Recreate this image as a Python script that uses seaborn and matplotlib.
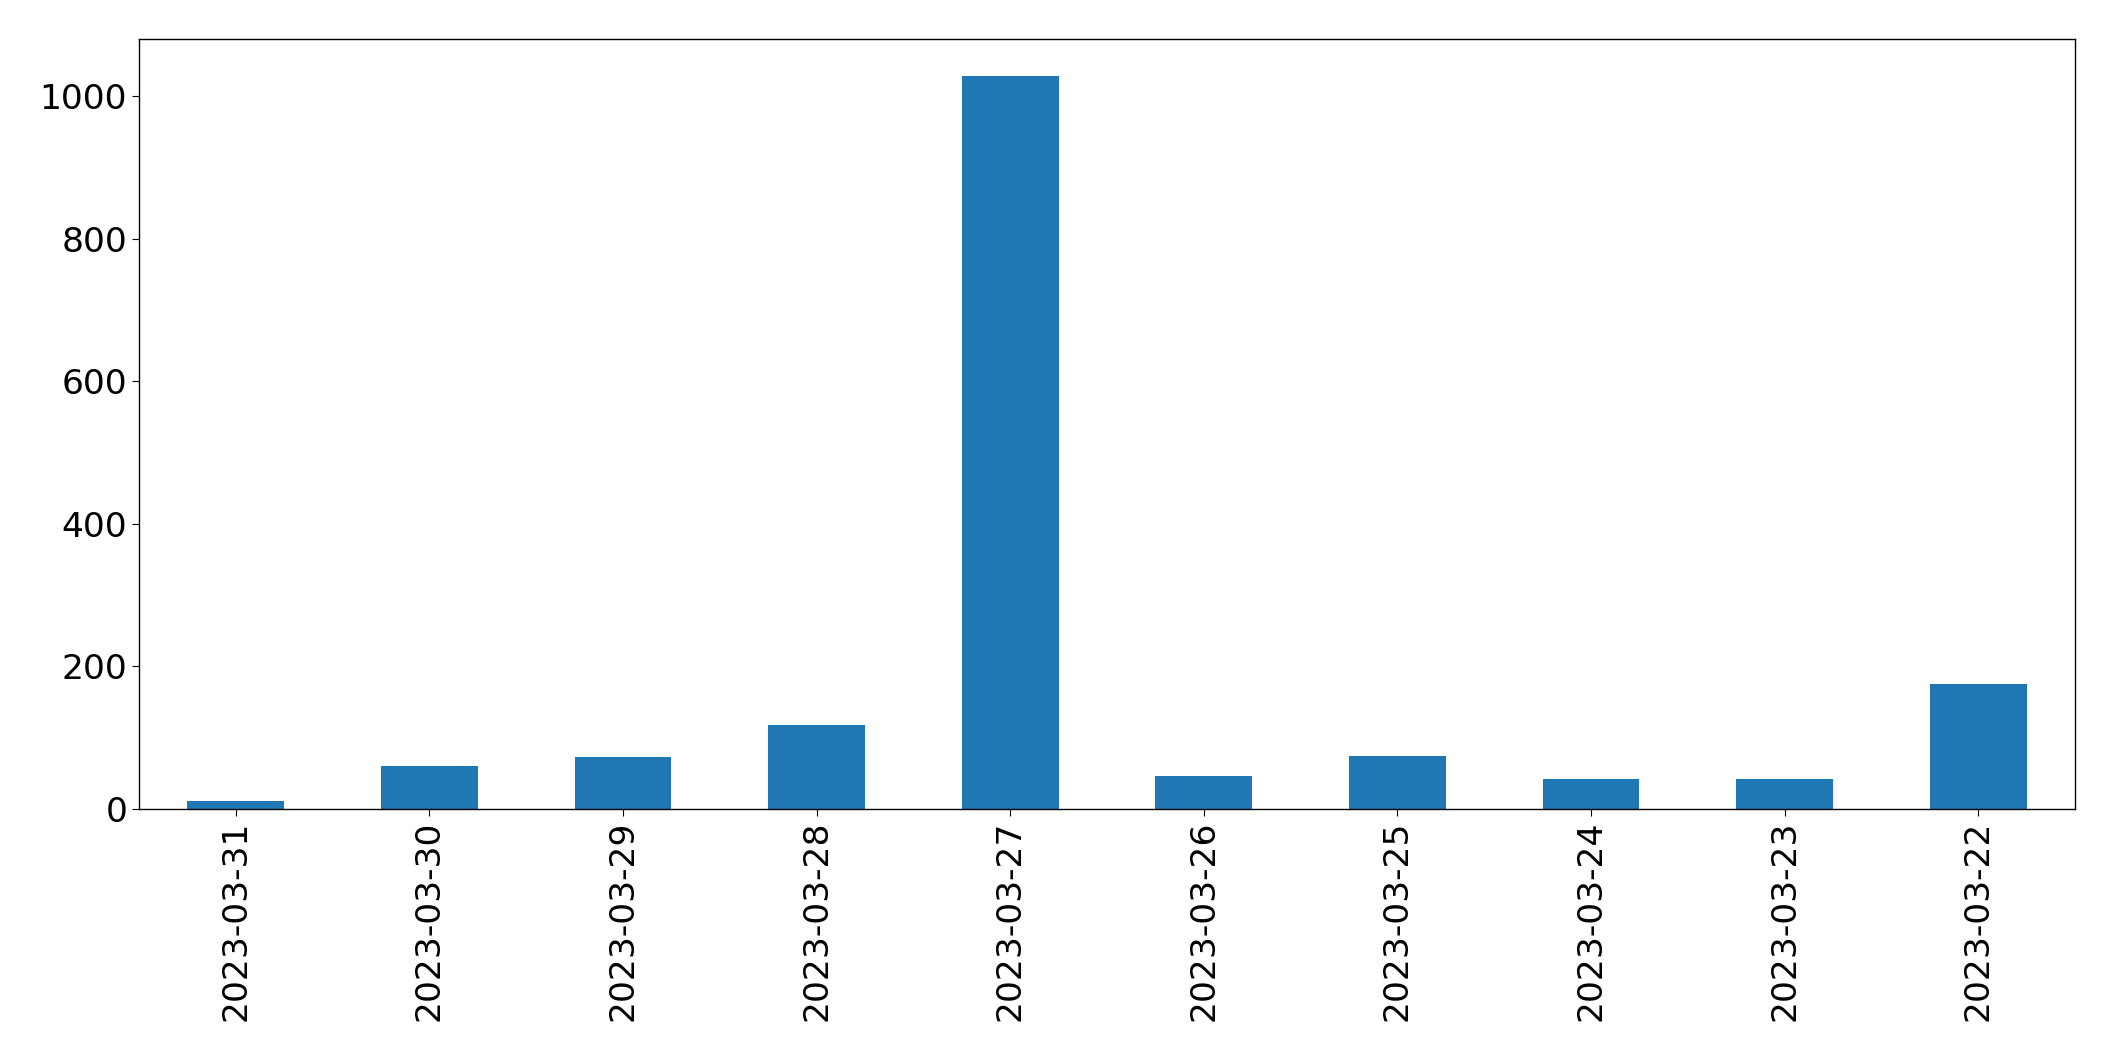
import matplotlib
matplotlib.use("Agg")
import matplotlib.pyplot as plt
import seaborn as sns
import pandas as pd

dates = ["2023-03-31", "2023-03-30", "2023-03-29", "2023-03-28", "2023-03-27",
         "2023-03-26", "2023-03-25", "2023-03-24", "2023-03-23", "2023-03-22"]
counts = [11, 61, 73, 118, 1029, 46, 75, 42, 42, 176]

df = pd.DataFrame({"date": dates, "count": counts})

fig = plt.figure(figsize=(21.15, 10.61), dpi=100)
ax = fig.add_axes([139 / 2115, 1 - 809 / 1061, (2075 - 139) / 2115, (809 - 39) / 1061])
sns.barplot(data=df, x="date", y="count", order=dates, color="#1f77b4",
            saturation=1, width=0.5, ax=ax, errorbar=None)
ax.set_xlim(-0.5, len(dates) - 0.5)
ax.set_ylim(0, max(counts) * 1.05)
ax.set_xlabel("")
ax.set_ylabel("")
ax.tick_params(axis="both", labelsize=24.8, length=5)
ax.tick_params(axis="x", labelrotation=90)
for s in ax.spines.values():
    s.set_visible(True)
    s.set_linewidth(1.0)
fig.savefig("out.png", dpi=100)
